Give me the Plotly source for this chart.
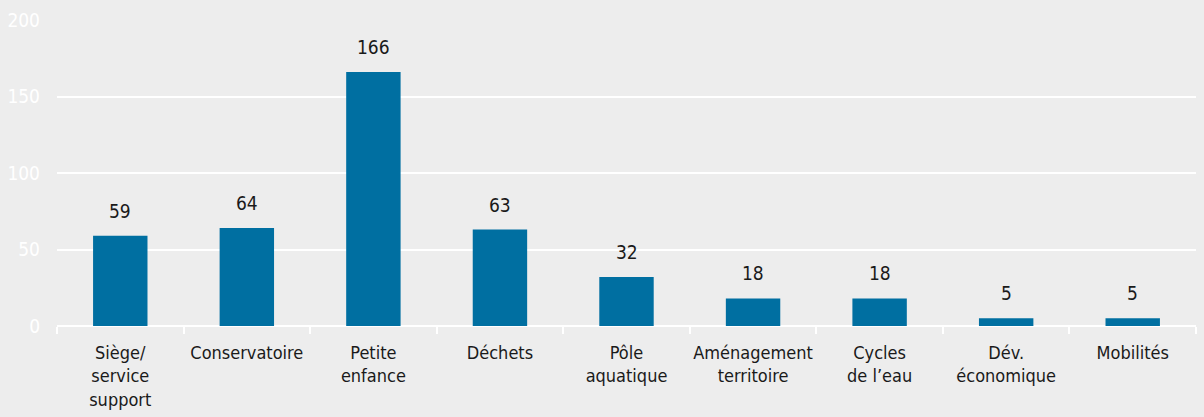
import plotly.graph_objects as go

categories = [
    "Siège/<br>service<br>support",
    "Conservatoire",
    "Petite<br>enfance",
    "Déchets",
    "Pôle<br>aquatique",
    "Aménagement<br>territoire",
    "Cycles<br>de l’eau",
    "Dév.<br>économique",
    "Mobilités",
]
values = [59, 64, 166, 63, 32, 18, 18, 5, 5]
y_ticks = [0, 50, 100, 150, 200]

BG = "#EDEDED"
BAR = "#006FA1"
FONT = "DejaVu Sans Condensed, sans-serif"

fig = go.Figure(
    go.Bar(
        x=categories,
        y=values,
        marker=dict(color=BAR, line=dict(width=0)),
        width=0.43,
        hoverinfo="skip",
    )
)

for c, v in zip(categories, values):
    fig.add_annotation(
        x=c, y=v, text=str(v), showarrow=False,
        yanchor="bottom", yshift=12,
        font=dict(family=FONT, size=19, color="#1a1a1a"),
    )

fig.update_layout(
    width=1204, height=417,
    margin=dict(l=57, r=8, t=20, b=91, autoexpand=False),
    paper_bgcolor=BG, plot_bgcolor=BG,
    showlegend=False,
    font=dict(family=FONT, size=18, color="#1a1a1a"),
)
fig.update_xaxes(
    tickson="boundaries", tickangle=0, automargin=False,
    ticks="outside", ticklen=7, tickcolor="white", tickwidth=2,
    showgrid=False, showline=False,
    tickfont=dict(family=FONT, size=18, color="#1a1a1a"),
    ticklabelstandoff=14,
)
fig.update_yaxes(
    range=[0, 200], tickvals=y_ticks, automargin=False,
    showgrid=True, gridcolor="white", gridwidth=2,
    zeroline=True, zerolinecolor="white", zerolinewidth=2,
    tickfont=dict(family=FONT, size=19, color="white"),
    ticklabelstandoff=16,
)

fig.write_html("out.html")
